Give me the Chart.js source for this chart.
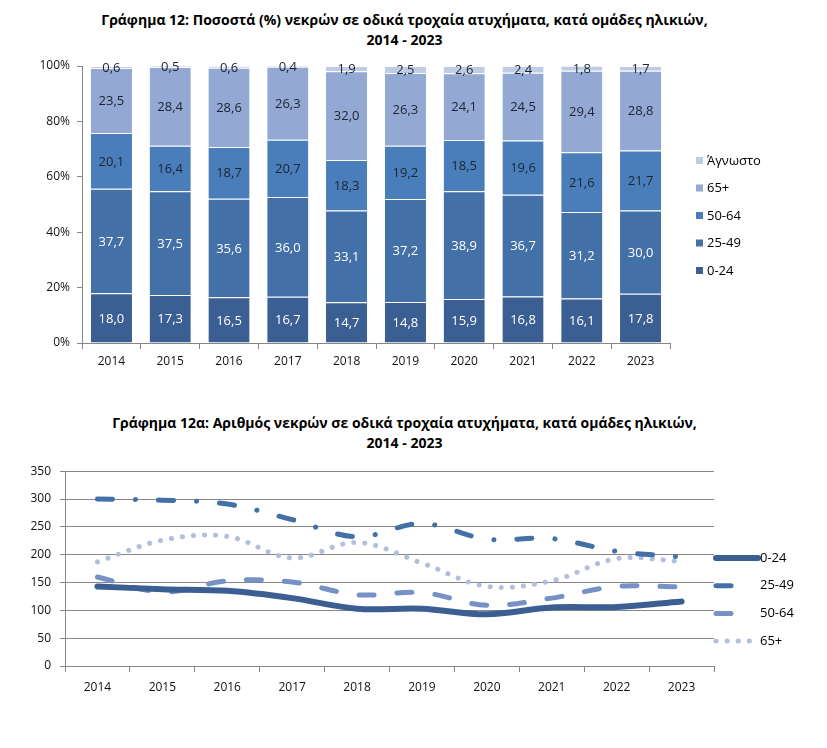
<!DOCTYPE html>
<html>
<head>
<meta charset="utf-8">
<script src="https://cdn.jsdelivr.net/npm/chart.js@4.4.1/dist/chart.umd.min.js"></script>
<style>
  html, body { margin: 0; padding: 0; background: #fff; }
  body { width: 827px; height: 748px; position: relative; overflow: hidden; font-family: "Open Sans", "Noto Sans", sans-serif; }
  .title { position: absolute; left: 0; width: 809px; text-align: center; font-weight: bold; font-size: 14px; line-height: 20px; color: #000; }
  .box { position: absolute; left: 0; width: 827px; }
</style>
</head>
<body>
<div class="title" style="top:10px">Γράφημα 12: Ποσοστά (%) νεκρών σε οδικά τροχαία ατυχήματα, κατά ομάδες ηλικιών,<br>2014 - 2023</div>
<div class="box" style="top:50px;height:330px"><canvas id="pctChart"></canvas></div>
<div class="title" style="top:413px">Γράφημα 12α: Αριθμός νεκρών σε οδικά τροχαία ατυχήματα, κατά ομάδες ηλικιών,<br>2014 - 2023</div>
<div class="box" style="top:455px;height:293px"><canvas id="countChart"></canvas></div>

<script>
// categories
const years = ['2014', '2015', '2016', '2017', '2018', '2019', '2020', '2021', '2022', '2023'];

// percentage of deaths per age group (top chart)
const pct0_24 = [18.0, 17.3, 16.5, 16.7, 14.7, 14.8, 15.9, 16.8, 16.1, 17.8];
const pct25_49 = [37.7, 37.5, 35.6, 36.0, 33.1, 37.2, 38.9, 36.7, 31.2, 30.0];
const pct50_64 = [20.1, 16.4, 18.7, 20.7, 18.3, 19.2, 18.5, 19.6, 21.6, 21.7];
const pct65plus = [23.5, 28.4, 28.6, 26.3, 32.0, 26.3, 24.1, 24.5, 29.4, 28.8];
const pctUnknown = [0.6, 0.5, 0.6, 0.4, 1.9, 2.5, 2.6, 2.4, 1.8, 1.7];

// number of deaths per age group (bottom chart)
const deaths0_24 = [143, 138, 135, 122, 103, 103, 93, 105, 106, 116];
const deaths25_49 = [300, 298, 291, 263, 232, 256, 228, 229, 206, 196];
const deaths50_64 = [160, 133, 153, 151, 128, 132, 109, 122, 143, 142];
const deaths65plus = [187, 226, 233, 194, 222, 185, 143, 153, 193, 188];

const pctTicks = [0, 20, 40, 60, 80, 100];
const countTicks = [0, 50, 100, 150, 200, 250, 300, 350];

const FONT = '"Open Sans", "Noto Sans", sans-serif';
const AXIS_GREY = '#868686';

// value labels inside the stacked bars
const barLabels = {
  id: 'barLabels',
  afterDatasetsDraw(chart) {
    const ctx = chart.ctx;
    ctx.save();
    ctx.font = '13px ' + FONT;
    ctx.textAlign = 'center';
    ctx.textBaseline = 'middle';
    chart.data.datasets.forEach((ds, i) => {
      chart.getDatasetMeta(i).data.forEach((bar, j) => {
        ctx.fillStyle = ds.labelColor;
        ctx.fillText(ds.data[j].toFixed(1).replace('.', ','), bar.x, (bar.y + bar.base) / 2 + 1);
      });
    });
    ctx.restore();
  }
};

// legend on the right, drawn by hand so it sits where the original has it
const sideLegend = {
  id: 'sideLegend',
  afterDraw(chart, args, opts) {
    const ctx = chart.ctx;
    ctx.save();
    ctx.font = '13px ' + FONT;
    ctx.textBaseline = 'middle';
    ctx.fillStyle = '#000';
    opts.order.forEach((idx, k) => {
      const ds = chart.data.datasets[idx];
      const y = opts.top + k * opts.step;
      if (opts.kind === 'box') {
        ctx.fillStyle = ds.backgroundColor;
        ctx.fillRect(opts.x, y - 4, 7, 7);
      } else {
        // solid sample runs full length, dashed ones stop before the next dash starts
        const len = ds.borderDash ? opts.len - 7 : opts.len;
        ctx.beginPath();
        ctx.strokeStyle = ds.borderColor;
        ctx.lineWidth = ds.borderWidth;
        ctx.lineCap = ds.borderCapStyle || 'butt';
        ctx.setLineDash(ds.borderDash || []);
        ctx.moveTo(opts.x + 2, y);
        ctx.lineTo(opts.x + len, y);
        ctx.stroke();
        ctx.setLineDash([]);
      }
      ctx.fillStyle = '#000';
      ctx.fillText(ds.label, opts.textX, y);
    });
    ctx.restore();
  }
};

function fixedWidth(w) { return scale => { scale.width = w; }; }
function fixedHeight(h) { return scale => { scale.height = h; }; }

function barSet(label, data, color, labelColor) {
  return {
    label: label,
    data: data,
    backgroundColor: color,
    borderColor: '#ffffff',
    borderWidth: { top: 1, left: 0, right: 0, bottom: 0 },
    borderSkipped: false,
    labelColor: labelColor,
    barPercentage: 0.7,
    categoryPercentage: 1.0
  };
}

new Chart(document.getElementById('pctChart'), {
  type: 'bar',
  data: {
    labels: years,
    datasets: [
      barSet('0-24', pct0_24, '#3B5F92', '#ffffff'),
      barSet('25-49', pct25_49, '#4470A8', '#ffffff'),
      barSet('50-64', pct50_64, '#4A7EBB', '#1c2433'),
      barSet('65+', pct65plus, '#93A8D2', '#1c2433'),
      barSet('Άγνωστο', pctUnknown, '#C0CCE3', '#1c2433')
    ]
  },
  options: {
    responsive: true,
    maintainAspectRatio: false,
    animation: false,
    layout: { padding: { left: 0, right: 157, top: 16, bottom: 7 } },
    plugins: {
      legend: { display: false },
      tooltip: { enabled: false },
      sideLegend: { kind: 'box', order: [4, 3, 2, 1, 0], x: 696, textX: 707, top: 111, step: 27.5 }
    },
    scales: {
      x: {
        stacked: true,
        offset: true,
        afterFit: fixedHeight(30),
        grid: { offset: true, drawOnChartArea: false, drawTicks: true, tickLength: 6, color: AXIS_GREY },
        border: { display: true, color: AXIS_GREY },
        ticks: { color: '#111', font: { family: FONT, size: 12 }, padding: 5 }
      },
      y: {
        stacked: true,
        min: 0,
        max: 100,
        afterFit: fixedWidth(82),
        afterBuildTicks: axis => { axis.ticks = pctTicks.map(v => ({ value: v })); },
        grid: { drawOnChartArea: false, drawTicks: true, tickLength: 5, color: AXIS_GREY },
        border: { display: true, color: AXIS_GREY },
        ticks: { color: '#111', font: { family: FONT, size: 12 }, padding: 7, callback: v => v + '%' }
      }
    }
  },
  plugins: [barLabels, sideLegend]
});

new Chart(document.getElementById('countChart'), {
  type: 'line',
  data: {
    labels: years,
    datasets: [
      { label: '0-24', data: deaths0_24, borderColor: '#3B5F92', borderWidth: 6, borderCapStyle: 'round', tension: 0.35, pointRadius: 0 },
      { label: '25-49', data: deaths25_49, borderColor: '#4470A8', borderWidth: 5, borderDash: [15, 23, 0.1, 23], borderCapStyle: 'round', tension: 0.35, pointRadius: 0 },
      { label: '50-64', data: deaths50_64, borderColor: '#7591C5', borderWidth: 5, borderDash: [15, 23], borderCapStyle: 'round', tension: 0.35, pointRadius: 0 },
      { label: '65+', data: deaths65plus, borderColor: '#B3BFDA', borderWidth: 5, borderDash: [0.1, 11], borderCapStyle: 'round', tension: 0.35, pointRadius: 0 }
    ]
  },
  options: {
    responsive: true,
    maintainAspectRatio: false,
    animation: false,
    layout: { padding: { left: 0, right: 113, top: 11, bottom: 52 } },
    plugins: {
      legend: { display: false },
      tooltip: { enabled: false },
      sideLegend: { kind: 'line', order: [0, 1, 2, 3], x: 714, len: 44, textX: 760, top: 103, step: 27.7 }
    },
    scales: {
      x: {
        offset: true,
        afterFit: fixedHeight(30),
        grid: { offset: true, drawOnChartArea: false, drawTicks: true, tickLength: 6, color: AXIS_GREY },
        border: { display: true, color: AXIS_GREY },
        ticks: { color: '#111', font: { family: FONT, size: 12 }, padding: 8 }
      },
      y: {
        min: 0,
        max: 350,
        afterFit: fixedWidth(65),
        afterBuildTicks: axis => { axis.ticks = countTicks.map(v => ({ value: v })); },
        grid: { drawTicks: true, tickLength: 5, color: AXIS_GREY },
        border: { display: true, color: AXIS_GREY },
        ticks: { color: '#111', font: { family: FONT, size: 12 }, padding: 9 }
      }
    }
  },
  plugins: [sideLegend]
});
</script>
</body>
</html>
